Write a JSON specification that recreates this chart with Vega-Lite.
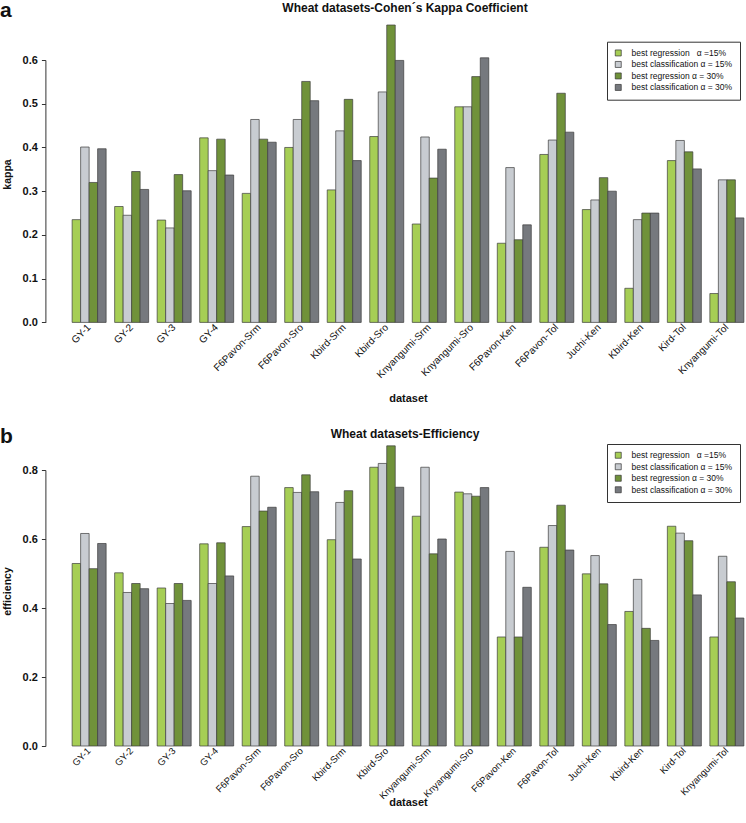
{
 "$schema": "https://vega.github.io/schema/vega-lite/v6.json",
 "padding": {"left": 0, "top": 0, "right": 0, "bottom": 0},
 "spacing": 21,
 "config": {
  "font": "Liberation Sans",
  "view": {"stroke": null},
  "axis": {"grid": false, "domainColor": "#333333", "tickColor": "#333333", "labelColor": "#111111", "titleColor": "#111111", "labelFont": "Liberation Sans", "titleFont": "Liberation Sans"},
  "title": {"font": "Liberation Sans", "color": "#111111"}
 },
 "datasets": {
  "wheat": [
   {"dataset":"GY-1","series":"best regression\u00a0\u00a0\u00a0α =15%","kappa":0.235,"efficiency":0.529},
   {"dataset":"GY-1","series":"best classification α = 15%","kappa":0.401,"efficiency":0.616},
   {"dataset":"GY-1","series":"best regression α = 30%","kappa":0.320,"efficiency":0.514},
   {"dataset":"GY-1","series":"best classification α = 30%","kappa":0.397,"efficiency":0.587},
   {"dataset":"GY-2","series":"best regression\u00a0\u00a0\u00a0α =15%","kappa":0.265,"efficiency":0.502},
   {"dataset":"GY-2","series":"best classification α = 15%","kappa":0.245,"efficiency":0.445},
   {"dataset":"GY-2","series":"best regression α = 30%","kappa":0.345,"efficiency":0.471},
   {"dataset":"GY-2","series":"best classification α = 30%","kappa":0.304,"efficiency":0.456},
   {"dataset":"GY-3","series":"best regression\u00a0\u00a0\u00a0α =15%","kappa":0.234,"efficiency":0.458},
   {"dataset":"GY-3","series":"best classification α = 15%","kappa":0.216,"efficiency":0.413},
   {"dataset":"GY-3","series":"best regression α = 30%","kappa":0.338,"efficiency":0.471},
   {"dataset":"GY-3","series":"best classification α = 30%","kappa":0.301,"efficiency":0.422},
   {"dataset":"GY-4","series":"best regression\u00a0\u00a0\u00a0α =15%","kappa":0.422,"efficiency":0.586},
   {"dataset":"GY-4","series":"best classification α = 15%","kappa":0.347,"efficiency":0.471},
   {"dataset":"GY-4","series":"best regression α = 30%","kappa":0.419,"efficiency":0.589},
   {"dataset":"GY-4","series":"best classification α = 30%","kappa":0.337,"efficiency":0.493},
   {"dataset":"F6Pavon-Srm","series":"best regression\u00a0\u00a0\u00a0α =15%","kappa":0.295,"efficiency":0.636},
   {"dataset":"F6Pavon-Srm","series":"best classification α = 15%","kappa":0.464,"efficiency":0.782},
   {"dataset":"F6Pavon-Srm","series":"best regression α = 30%","kappa":0.419,"efficiency":0.681},
   {"dataset":"F6Pavon-Srm","series":"best classification α = 30%","kappa":0.412,"efficiency":0.692},
   {"dataset":"F6Pavon-Sro","series":"best regression\u00a0\u00a0\u00a0α =15%","kappa":0.400,"efficiency":0.749},
   {"dataset":"F6Pavon-Sro","series":"best classification α = 15%","kappa":0.464,"efficiency":0.735},
   {"dataset":"F6Pavon-Sro","series":"best regression α = 30%","kappa":0.551,"efficiency":0.786},
   {"dataset":"F6Pavon-Sro","series":"best classification α = 30%","kappa":0.507,"efficiency":0.737},
   {"dataset":"Kbird-Srm","series":"best regression\u00a0\u00a0\u00a0α =15%","kappa":0.303,"efficiency":0.598},
   {"dataset":"Kbird-Srm","series":"best classification α = 15%","kappa":0.438,"efficiency":0.706},
   {"dataset":"Kbird-Srm","series":"best regression α = 30%","kappa":0.510,"efficiency":0.740},
   {"dataset":"Kbird-Srm","series":"best classification α = 30%","kappa":0.370,"efficiency":0.542},
   {"dataset":"Kbird-Sro","series":"best regression\u00a0\u00a0\u00a0α =15%","kappa":0.425,"efficiency":0.808},
   {"dataset":"Kbird-Sro","series":"best classification α = 15%","kappa":0.527,"efficiency":0.819},
   {"dataset":"Kbird-Sro","series":"best regression α = 30%","kappa":0.680,"efficiency":0.870},
   {"dataset":"Kbird-Sro","series":"best classification α = 30%","kappa":0.599,"efficiency":0.750},
   {"dataset":"Knyangumi-Srm","series":"best regression\u00a0\u00a0\u00a0α =15%","kappa":0.225,"efficiency":0.666},
   {"dataset":"Knyangumi-Srm","series":"best classification α = 15%","kappa":0.424,"efficiency":0.808},
   {"dataset":"Knyangumi-Srm","series":"best regression α = 30%","kappa":0.330,"efficiency":0.557},
   {"dataset":"Knyangumi-Srm","series":"best classification α = 30%","kappa":0.396,"efficiency":0.600},
   {"dataset":"Knyangumi-Sro","series":"best regression\u00a0\u00a0\u00a0α =15%","kappa":0.493,"efficiency":0.736},
   {"dataset":"Knyangumi-Sro","series":"best classification α = 15%","kappa":0.493,"efficiency":0.731},
   {"dataset":"Knyangumi-Sro","series":"best regression α = 30%","kappa":0.562,"efficiency":0.724},
   {"dataset":"Knyangumi-Sro","series":"best classification α = 30%","kappa":0.605,"efficiency":0.749},
   {"dataset":"F6Pavon-Ken","series":"best regression\u00a0\u00a0\u00a0α =15%","kappa":0.181,"efficiency":0.316},
   {"dataset":"F6Pavon-Ken","series":"best classification α = 15%","kappa":0.354,"efficiency":0.564},
   {"dataset":"F6Pavon-Ken","series":"best regression α = 30%","kappa":0.189,"efficiency":0.316},
   {"dataset":"F6Pavon-Ken","series":"best classification α = 30%","kappa":0.223,"efficiency":0.460},
   {"dataset":"F6Pavon-Tol","series":"best regression\u00a0\u00a0\u00a0α =15%","kappa":0.384,"efficiency":0.576},
   {"dataset":"F6Pavon-Tol","series":"best classification α = 15%","kappa":0.417,"efficiency":0.639},
   {"dataset":"F6Pavon-Tol","series":"best regression α = 30%","kappa":0.524,"efficiency":0.698},
   {"dataset":"F6Pavon-Tol","series":"best classification α = 30%","kappa":0.435,"efficiency":0.568},
   {"dataset":"Juchi-Ken","series":"best regression\u00a0\u00a0\u00a0α =15%","kappa":0.258,"efficiency":0.499},
   {"dataset":"Juchi-Ken","series":"best classification α = 15%","kappa":0.280,"efficiency":0.552},
   {"dataset":"Juchi-Ken","series":"best regression α = 30%","kappa":0.331,"efficiency":0.470},
   {"dataset":"Juchi-Ken","series":"best classification α = 30%","kappa":0.300,"efficiency":0.352},
   {"dataset":"Kbird-Ken","series":"best regression\u00a0\u00a0\u00a0α =15%","kappa":0.078,"efficiency":0.390},
   {"dataset":"Kbird-Ken","series":"best classification α = 15%","kappa":0.235,"efficiency":0.483},
   {"dataset":"Kbird-Ken","series":"best regression α = 30%","kappa":0.250,"efficiency":0.341},
   {"dataset":"Kbird-Ken","series":"best classification α = 30%","kappa":0.250,"efficiency":0.306},
   {"dataset":"Kird-Tol","series":"best regression\u00a0\u00a0\u00a0α =15%","kappa":0.370,"efficiency":0.637},
   {"dataset":"Kird-Tol","series":"best classification α = 15%","kappa":0.416,"efficiency":0.617},
   {"dataset":"Kird-Tol","series":"best regression α = 30%","kappa":0.390,"efficiency":0.595},
   {"dataset":"Kird-Tol","series":"best classification α = 30%","kappa":0.351,"efficiency":0.438},
   {"dataset":"Knyangumi-Tol","series":"best regression\u00a0\u00a0\u00a0α =15%","kappa":0.066,"efficiency":0.316},
   {"dataset":"Knyangumi-Tol","series":"best classification α = 15%","kappa":0.326,"efficiency":0.550},
   {"dataset":"Knyangumi-Tol","series":"best regression α = 30%","kappa":0.326,"efficiency":0.476},
   {"dataset":"Knyangumi-Tol","series":"best classification α = 30%","kappa":0.239,"efficiency":0.371}
  ]
 },
 "resolve": {"scale": {"color": "independent", "x": "independent", "y": "independent", "xOffset": "independent"}, "legend": {"color": "independent"}},
 "vconcat": [
  {
   "title": {"text": "a", "anchor": "start", "frame": "bounds", "fontSize": 21, "fontWeight": "bold", "offset": -19.7, "dx": -2},
   "vconcat": [
    {
     "title": {"text": "Wheat datasets-Cohen´s Kappa Coefficient", "fontSize": 12, "fontWeight": "bold", "anchor": "middle", "offset": 10, "dx": -3},
     "width": 676,
     "height": 262.4,
     "data": {"name": "wheat"},
     "mark": {"type": "bar", "stroke": "#3c3c3c", "strokeWidth": 0.7},
     "encoding": {
      "x": {"field": "dataset", "type": "nominal", "sort": null,
            "scale": {"paddingInner": 0.2, "paddingOuter": 0.05},
            "axis": {"title": "dataset", "labelAngle": -45, "labelAlign": "right", "labelBaseline": "middle", "domain": false, "ticks": false, "labelPadding": 3, "labelFontSize": 10, "labelLimit": 200, "titleFontSize": 11, "titleFontWeight": "bold", "titlePadding": 13}},
      "xOffset": {"field": "series", "type": "nominal", "scale": {"domain": ["best regression\u00a0\u00a0\u00a0α =15%", "best classification α = 15%", "best regression α = 30%", "best classification α = 30%"]}},
      "y": {"field": "kappa", "type": "quantitative", "scale": {"domain": [0, 0.6], "nice": false},
            "axis": {"title": "kappa", "values": [0, 0.1, 0.2, 0.3, 0.4, 0.5, 0.6], "format": ".1f", "offset": 24.6, "tickSize": 4, "labelPadding": 4, "labelFontSize": 11, "labelFontWeight": "bold", "titleFontSize": 10.5, "titleFontWeight": "bold", "titlePadding": 10, "titleY": 114}},
      "color": {"field": "series", "type": "nominal",
                "scale": {"domain": ["best regression\u00a0\u00a0\u00a0α =15%", "best classification α = 15%", "best regression α = 30%", "best classification α = 30%"], "range": ["#a6ce55", "#c8ccd1", "#70923a", "#76797e"]},
                "legend": {"title": null, "orient": "none", "legendX": 537, "legendY": -18.3, "strokeColor": "#333333", "fillColor": "#ffffff", "padding": 7, "symbolType": "square", "symbolSize": 36, "symbolStrokeColor": "#333333", "symbolStrokeWidth": 0.7, "labelFontSize": 8.5, "labelColor": "#111111", "rowPadding": 1.5, "labelOffset": 9, "labelLimit": 200}}
     }
    }
   ]
  },
  {
   "title": {"text": "b", "anchor": "start", "frame": "bounds", "fontSize": 21, "fontWeight": "bold", "offset": -19, "dx": -2},
   "vconcat": [
    {
     "title": {"text": "Wheat datasets-Efficiency", "fontSize": 12, "fontWeight": "bold", "anchor": "middle", "offset": 5, "dx": -3},
     "width": 676,
     "height": 276,
     "data": {"name": "wheat"},
     "mark": {"type": "bar", "stroke": "#3c3c3c", "strokeWidth": 0.7},
     "encoding": {
      "x": {"field": "dataset", "type": "nominal", "sort": null,
            "scale": {"paddingInner": 0.2, "paddingOuter": 0.05},
            "axis": {"title": "dataset", "labelAngle": -45, "labelAlign": "right", "labelBaseline": "middle", "domain": false, "ticks": false, "labelPadding": 3, "labelFontSize": 9.5, "labelLimit": 200, "titleFontSize": 11, "titleFontWeight": "bold", "titlePadding": -4}},
      "xOffset": {"field": "series", "type": "nominal", "scale": {"domain": ["best regression\u00a0\u00a0\u00a0α =15%", "best classification α = 15%", "best regression α = 30%", "best classification α = 30%"]}},
      "y": {"field": "efficiency", "type": "quantitative", "scale": {"domain": [0, 0.8], "nice": false},
            "axis": {"title": "efficiency", "values": [0, 0.2, 0.4, 0.6, 0.8], "format": ".1f", "offset": 24.6, "tickSize": 4, "labelPadding": 4, "labelFontSize": 11, "labelFontWeight": "bold", "titleFontSize": 10.5, "titleFontWeight": "bold", "titlePadding": 10, "titleY": 121}},
      "color": {"field": "series", "type": "nominal",
                "scale": {"domain": ["best regression\u00a0\u00a0\u00a0α =15%", "best classification α = 15%", "best regression α = 30%", "best classification α = 30%"], "range": ["#a6ce55", "#c8ccd1", "#70923a", "#76797e"]},
                "legend": {"title": null, "orient": "none", "legendX": 537, "legendY": -26, "strokeColor": "#333333", "fillColor": "#ffffff", "padding": 7, "symbolType": "square", "symbolSize": 36, "symbolStrokeColor": "#333333", "symbolStrokeWidth": 0.7, "labelFontSize": 8.5, "labelColor": "#111111", "rowPadding": 1.5, "labelOffset": 9, "labelLimit": 200}}
     }
    }
   ]
  }
 ]
}
